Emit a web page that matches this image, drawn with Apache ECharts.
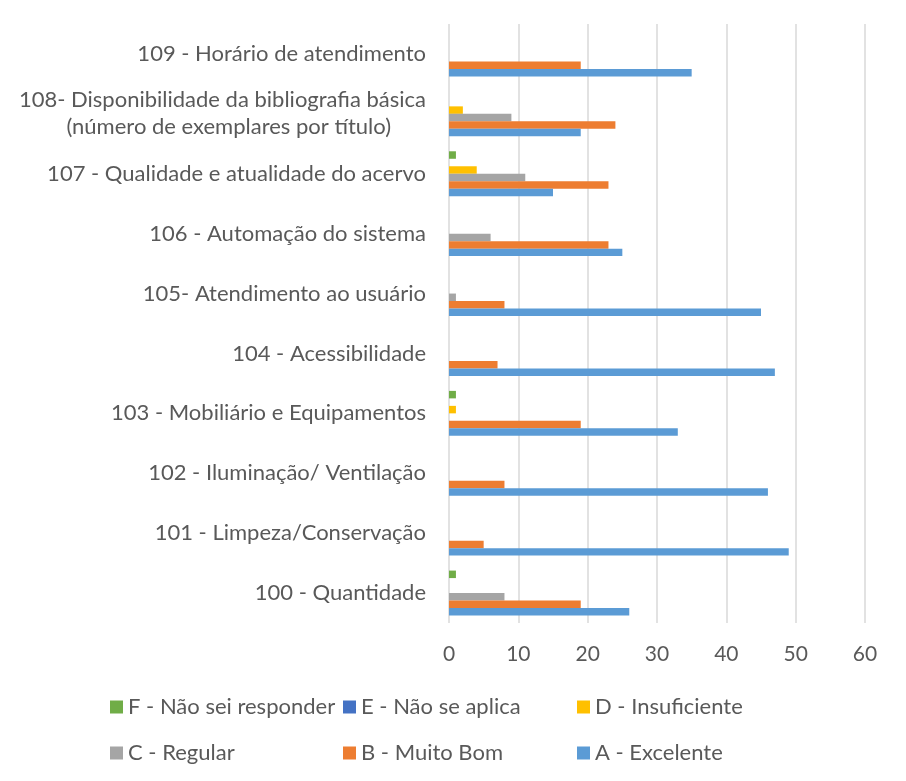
<!DOCTYPE html>
<html>
<head>
<meta charset="utf-8">
<script src="https://cdn.jsdelivr.net/npm/echarts@6/dist/echarts.min.js"></script>
<style>
  html, body { margin: 0; padding: 0; background: #fff; }
  #chart { width: 906px; height: 781px; }
</style>
</head>
<body>
<div id="chart"></div>
<script>
// categorias (de baixo para cima)
var categorias = [
    '100 - Quantidade',
    '101 - Limpeza/Conservação',
    '102 - Iluminação/ Ventilação',
    '103 - Mobiliário e Equipamentos',
    '104 - Acessibilidade',
    '105- Atendimento ao usuário',
    '106 - Automação do sistema',
    '107 - Qualidade e atualidade do acervo',
    '108- Disponibilidade da bibliografia básica\n(número de exemplares por título)',
    '109 - Horário de atendimento'
];

var nomes = ['A - Excelente', 'B - Muito Bom', 'C - Regular', 'D - Insuficiente', 'E - Não se aplica', 'F - Não sei responder'];
var cores = ['#5B9BD5', '#ED7D31', '#A5A5A5', '#FFC000', '#4472C4', '#70AD47'];

var serieA = [26, 49, 46, 33, 47, 45, 25, 15, 19, 35];
var serieB = [19, 5, 8, 19, 7, 8, 23, 23, 24, 19];
var serieC = [8, 0, 0, 0, 0, 1, 6, 11, 9, 0];
var serieD = [0, 0, 0, 1, 0, 0, 0, 4, 2, 0];
var serieE = [0, 0, 0, 0, 0, 0, 0, 0, 0, 0];
var serieF = [1, 0, 0, 1, 0, 0, 0, 1, 0, 0];

var valores = [serieA, serieB, serieC, serieD, serieE, serieF];

var chart = echarts.init(document.getElementById('chart'));

var fonte = 'Lato';
var corTexto = '#595959';

// séries em ordem inversa para A ficar embaixo no grupo
var series = [];
for (var i = valores.length - 1; i >= 0; i--) {
    series.push({
        name: nomes[i],
        type: 'bar',
        data: valores[i],
        barGap: '0%',
        barCategoryGap: '25%',
        itemStyle: { color: cores[i] }
    });
}

function legenda(left, itens) {
    return {
        orient: 'vertical',
        left: left,
        top: 691,
        itemWidth: 13,
        itemHeight: 13,
        itemGap: 24,
        icon: 'rect',
        data: itens,
        textStyle: { fontFamily: fonte, fontSize: 22, color: corTexto, lineHeight: 22 }
    };
}

chart.setOption({
    animation: false,
    backgroundColor: '#fff',
    grid: { left: 449, right: 41, top: 24, bottom: 158, containLabel: false },
    legend: [
        legenda(105, ['F - Não sei responder', 'C - Regular']),
        legenda(338, ['E - Não se aplica', 'B - Muito Bom']),
        legenda(572, ['D - Insuficiente', 'A - Excelente'])
    ],
    xAxis: {
        type: 'value',
        min: 0,
        max: 60,
        interval: 10,
        axisLine: { show: false },
        axisTick: { show: false },
        splitLine: { lineStyle: { color: '#d9d9d9', width: 1.5 } },
        axisLabel: { margin: 21, fontFamily: fonte, fontSize: 21, color: corTexto }
    },
    yAxis: {
        type: 'category',
        data: categorias,
        axisLine: { show: false },
        axisTick: { show: false },
        axisLabel: {
            margin: 23,
            fontFamily: fonte,
            fontSize: 22,
            color: corTexto,
            lineHeight: 27,
            formatter: function (v) {
                var partes = v.split('\n');
                if (partes.length > 1) {
                    return partes[0] + '\n{b|' + partes[1] + '}';
                }
                return v;
            },
            rich: {
                b: { fontFamily: fonte, fontSize: 22, color: corTexto, lineHeight: 27, padding: [0, 35, 0, 0] }
            }
        }
    },
    series: series
});
</script>
</body>
</html>
